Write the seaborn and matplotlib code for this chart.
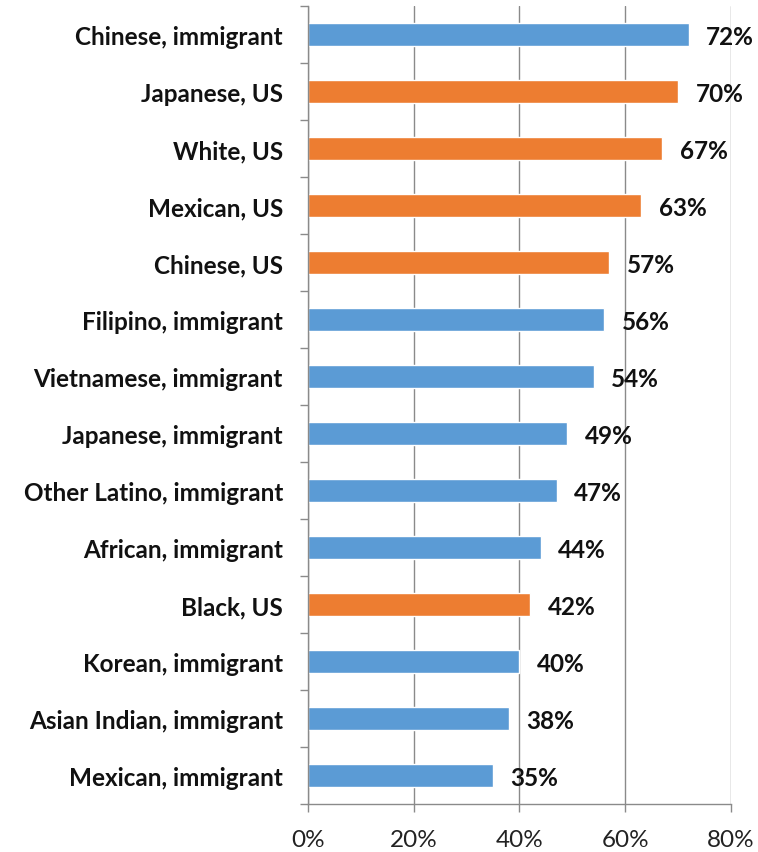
import numpy as np
import pandas as pd
import matplotlib.pyplot as plt
import seaborn as sns
from matplotlib.ticker import FixedLocator

sns.set_theme(style="white")
plt.rcParams['font.family'] = ['Lato', 'DejaVu Sans']

# Data (top to bottom)
groups = ['Chinese, immigrant', 'Japanese, US', 'White, US', 'Mexican, US', 'Chinese, US',
          'Filipino, immigrant', 'Vietnamese, immigrant', 'Japanese, immigrant',
          'Other Latino, immigrant', 'African, immigrant', 'Black, US',
          'Korean, immigrant', 'Asian Indian, immigrant', 'Mexican, immigrant']
values = [72, 70, 67, 63, 57, 56, 54, 49, 47, 44, 42, 40, 38, 35]
origin = ['immigrant', 'US', 'US', 'US', 'US', 'immigrant', 'immigrant', 'immigrant',
          'immigrant', 'immigrant', 'US', 'immigrant', 'immigrant', 'immigrant']

df = pd.DataFrame({'group': groups, 'value': values, 'origin': origin})
palette = {'immigrant': '#5B9BD5', 'US': '#ED7D31'}

fig = plt.figure(figsize=(7.58, 8.53), dpi=100)
ax = fig.add_axes([0.4063, 0.0563, 0.5581, 0.9355])

sns.barplot(data=df, y='group', x='value', hue='origin', palette=palette,
            dodge=False, width=0.4, legend=False, ax=ax, saturation=1)

ax.set_xlim(0, 80)
ax.set_ylim(len(groups) - 0.5, -0.5)
ax.set_xticks([0, 20, 40, 60, 80])
ax.set_xticklabels([f'{t}%' for t in [0, 20, 40, 60, 80]], fontsize=17.5, color='#222222')
ax.set_yticklabels(groups, fontsize=17.5, fontweight='bold', color='#111111')
ax.set_xlabel('')
ax.set_ylabel('')

# gridlines and spines
ax.xaxis.grid(True, color='#8a8a8a', linewidth=1)
ax.yaxis.grid(False)
ax.set_axisbelow(True)
for s in ['top', 'right']:
    ax.spines[s].set_visible(False)
for s in ['left', 'bottom']:
    ax.spines[s].set_color('#8a8a8a')
    ax.spines[s].set_linewidth(1)

# tick marks: category boundaries on y, gridlines on x
ax.yaxis.set_minor_locator(FixedLocator(np.arange(-0.5, len(groups), 1)))
ax.tick_params(axis='y', which='major', length=0, pad=18)
ax.tick_params(axis='y', which='minor', length=6, color='#8a8a8a', width=1, left=True)
ax.tick_params(axis='x', which='major', length=6, color='#8a8a8a', width=1, bottom=True, pad=12)

# value labels
for i, v in enumerate(values):
    ax.text(v + 3.3, i + 0.03, f'{v}%', va='center', ha='left', fontsize=17.5,
            fontweight='bold', color='#111111')

fig.savefig('out.png', dpi=100)
